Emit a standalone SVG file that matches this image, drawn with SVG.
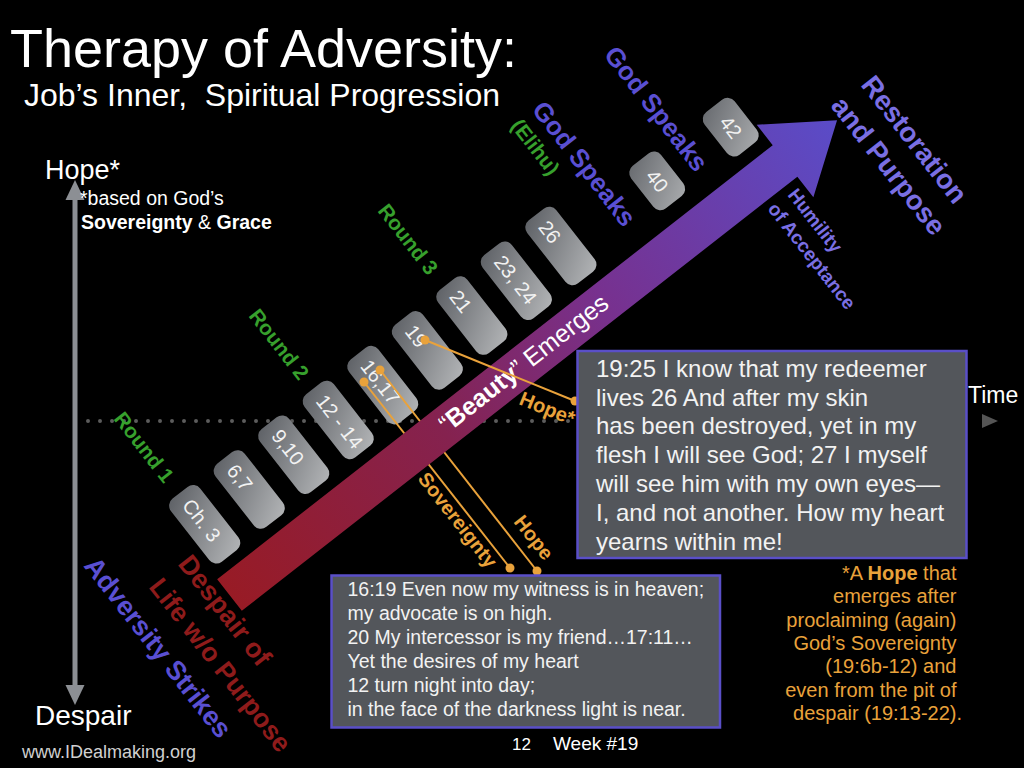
<svg xmlns="http://www.w3.org/2000/svg" width="1024" height="768" viewBox="0 0 1024 768">
<defs>
<linearGradient id="arrowGrad" gradientUnits="userSpaceOnUse" x1="0" y1="0" x2="771" y2="0">
<stop offset="0" stop-color="#981b25"/>
<stop offset="0.35" stop-color="#85224f"/>
<stop offset="0.62" stop-color="#77318f"/>
<stop offset="1" stop-color="#5a4cc8"/>
</linearGradient>
<linearGradient id="boxGrad" gradientUnits="userSpaceOnUse" x1="-22" y1="-36" x2="22" y2="36">
<stop offset="0" stop-color="#5e6166"/>
<stop offset="1" stop-color="#b2b4b6"/>
</linearGradient>
<style>
text { font-family: "Liberation Sans", Arial, sans-serif; }
.box rect { fill: url(#boxGrad); }
.box text { fill: #f2f2f2; font-size: 20px; }
.green { fill: #37a02d; font-weight: bold; font-size: 20.7px; }
.violet { fill: #5a4fd2; font-weight: bold; }
.lav { fill: #7a6fe3; font-weight: bold; }
.red { fill: #8e1b1b; font-weight: bold; }
.orange { fill: #e9a23b; }
.olink { stroke: #e9a23b; stroke-width: 2; fill: none; }
.odot { fill: #e9a23b; }
.callout { fill: #53565b; stroke: #5a4fc8; stroke-width: 2.5; }
.ctext { fill: #f2f2f2; }
.white { fill: #ffffff; }
</style>
</defs>
<rect width="1024" height="768" fill="#000"/>

<g id="title">
<text class="white" x="10" y="67" font-size="53" textLength="507" lengthAdjust="spacingAndGlyphs">Therapy of Adversity:</text>
<text class="white" x="24" y="106" font-size="31.5" xml:space="preserve" textLength="476" lengthAdjust="spacingAndGlyphs">Job’s Inner,  Spiritual Progression</text>
</g>

<g id="time-axis">
<line x1="88" y1="421" x2="976" y2="421" stroke="#5c5c5c" stroke-width="4" stroke-linecap="round" stroke-dasharray="0 12"/>
<polygon points="982,414 998,421 982,428" fill="#555"/>
<text class="white" x="968" y="403" font-size="23">Time</text>
</g>

<g id="hope-axis">
<line x1="75" y1="198" x2="75" y2="687" stroke="#8c8f94" stroke-width="5"/>
<polygon points="75,180 65.5,200 84.5,200" fill="#8c8f94"/>
<polygon points="75,705 65.5,685 84.5,685" fill="#8c8f94"/>
<text class="white" x="45" y="179" font-size="27">Hope*</text>
<text class="white" x="80" y="205" font-size="19.5">*based on God’s</text>
<text class="white" x="81" y="229" font-size="19.5"><tspan font-weight="bold">Sovereignty</tspan> &amp; <tspan font-weight="bold">Grace</tspan></text>
<text class="white" x="35" y="725" font-size="28">Despair</text>
</g>

<g id="chapters" transform="translate(229.5,595) rotate(-38)">
<g id="box-ch3" class="box" transform="translate(24,-71)"><rect x="-18.5" y="-40" width="37" height="80" rx="9"/><text transform="rotate(90)" x="-29" y="7">Ch. 3</text></g>
<g id="box-6-7" class="box" transform="translate(80.5,-71)"><rect x="-18.5" y="-40" width="37" height="80" rx="9"/><text transform="rotate(90)" x="-29" y="7">6,7</text></g>
<g id="box-9-10" class="box" transform="translate(137,-71)"><rect x="-18.5" y="-40" width="37" height="80" rx="9"/><text transform="rotate(90)" x="-29" y="7">9,10</text></g>
<g id="box-12-14" class="box" transform="translate(193.5,-71)"><rect x="-18.5" y="-40" width="37" height="80" rx="9"/><text transform="rotate(90)" x="-29" y="7">12 - 14</text></g>
<g id="box-16-17" class="box" transform="translate(250,-71)"><rect x="-18.5" y="-40" width="37" height="80" rx="9"/><text transform="rotate(90)" x="-29" y="7">16,17</text></g>
<g id="box-19" class="box" transform="translate(306.5,-71)"><rect x="-18.5" y="-40" width="37" height="80" rx="9"/><text transform="rotate(90)" x="-29" y="7">19</text></g>
<g id="box-21" class="box" transform="translate(363,-71)"><rect x="-18.5" y="-40" width="37" height="80" rx="9"/><text transform="rotate(90)" x="-29" y="7">21</text></g>
<g id="box-23-24" class="box" transform="translate(419.5,-71)"><rect x="-18.5" y="-40" width="37" height="80" rx="9"/><text transform="rotate(90)" x="-29" y="7">23, 24</text></g>
<g id="box-26" class="box" transform="translate(476,-71)"><rect x="-18.5" y="-40" width="37" height="80" rx="9"/><text transform="rotate(90)" x="-29" y="7">26</text></g>
<g id="box-40" class="box" transform="translate(592,-63)"><rect x="-19" y="-27" width="38" height="54" rx="9"/><text transform="rotate(90)" x="0" y="7" text-anchor="middle">40</text></g>
<g id="box-42" class="box" transform="translate(683,-60)"><rect x="-19" y="-27" width="38" height="54" rx="9"/><text transform="rotate(90)" x="0" y="7" text-anchor="middle">42</text></g>
</g>

<g id="connectors-under">
<line class="olink" x1="364" y1="382" x2="510" y2="568"/>
<line class="olink" x1="380" y1="370" x2="537" y2="571"/>
<circle class="odot" cx="364" cy="382" r="4.5"/>
<circle class="odot" cx="380" cy="370" r="4.5"/>
<circle class="odot" cx="510" cy="568" r="4.5"/>
<circle class="odot" cx="537" cy="571" r="4.5"/>
</g>

<g id="main-arrow" transform="translate(229.5,595) rotate(-38)">
<path d="M0,-20 L705,-20 L705,-46 L771,0 L705,46 L705,20 L0,20 Z" fill="url(#arrowGrad)"/>
<text class="white" x="374.5" y="7" text-anchor="middle" font-size="25">“<tspan font-weight="bold">Beauty</tspan>” Emerges</text>
</g>

<g id="connectors-over">
<line class="olink" x1="425" y1="340" x2="575" y2="401"/>
<circle class="odot" cx="425" cy="340" r="4.5"/>
<circle class="odot" cx="575" cy="401" r="4.5"/>
</g>

<g id="link-labels">
<text class="orange" font-weight="bold" font-size="20" transform="translate(518,404) rotate(22)">Hope*</text>
<text class="orange" font-weight="bold" font-size="20" transform="translate(417,479) rotate(52)">Sovereignty</text>
<text class="orange" font-weight="bold" font-size="20" transform="translate(513,522) rotate(52)">Hope</text>
</g>

<g id="stage-labels">
<text class="green" transform="translate(113,419) rotate(52)">Round 1</text>
<text class="green" transform="translate(248,316) rotate(52)">Round 2</text>
<text class="green" transform="translate(377,211) rotate(52)">Round 3</text>
<text class="green" font-size="20" transform="translate(510,126) rotate(52)">(Elihu)</text>
<text class="violet" font-size="26" transform="translate(531,110) rotate(52)">God Speaks</text>
<text class="violet" font-size="26" transform="translate(603,55) rotate(52)">God Speaks</text>
<text class="lav" font-size="27.5" transform="translate(860,85) rotate(52)">Restoration</text>
<text class="lav" font-size="27.5" transform="translate(830,106) rotate(52)">and Purpose</text>
<text class="lav" font-size="19" transform="translate(787,195) rotate(52)">Humility</text>
<text class="lav" font-size="19" transform="translate(767,209) rotate(52)">of Acceptance</text>
<text class="violet" font-size="27" transform="translate(83,566) rotate(52)">Adversity Strikes</text>
<text class="red" font-size="27" transform="translate(177,564) rotate(52)">Despair of</text>
<text class="red" font-size="26.5" transform="translate(148,587) rotate(52)">Life w/o Purpose</text>
</g>

<g id="callout-19">
<rect class="callout" x="577.5" y="351" width="389" height="207"/>
<text class="ctext" font-size="24">
<tspan x="596" y="376.7">19:25 I know that my redeemer</tspan>
<tspan x="596" y="405.5">lives 26 And after my skin</tspan>
<tspan x="596" y="434.3">has been destroyed, yet in my</tspan>
<tspan x="596" y="463.1">flesh I will see God; 27 I myself</tspan>
<tspan x="596" y="491.9">will see him with my own eyes—</tspan>
<tspan x="596" y="520.7">I, and not another. How my heart</tspan>
<tspan x="596" y="549.5">yearns within me!</tspan>
</text>
</g>

<g id="callout-16-17">
<rect class="callout" x="331.5" y="575.5" width="388.5" height="152"/>
<text class="ctext" font-size="19.5">
<tspan x="347.5" y="595.7">16:19 Even now my witness is in heaven;</tspan>
<tspan x="347.5" y="619.7">my advocate is on high.</tspan>
<tspan x="347.5" y="643.7">20 My intercessor is my friend…17:11…</tspan>
<tspan x="347.5" y="667.7">Yet the desires of my heart</tspan>
<tspan x="347.5" y="691.7">12 turn night into day;</tspan>
<tspan x="347.5" y="715.7">in the face of the darkness light is near.</tspan>
</text>
</g>

<g id="footnote">
<text class="orange" font-size="20" text-anchor="end">
<tspan x="962" y="580">*A <tspan font-weight="bold">Hope</tspan> that</tspan>
<tspan x="962" y="603.3">emerges after</tspan>
<tspan x="962" y="626.7">proclaiming (again)</tspan>
<tspan x="962" y="650">God’s Sovereignty</tspan>
<tspan x="962" y="673.3">(19:6b-12) and</tspan>
<tspan x="962" y="696.7">even from the pit of</tspan>
<tspan x="962" y="720">despair (19:13-22).</tspan>
</text>
</g>

<g id="footer">
<text x="22" y="758" font-size="18" fill="#d0d0d0">www.IDealmaking.org</text>
<text class="white" x="512" y="750" font-size="17">12</text>
<text class="white" x="553" y="750" font-size="19">Week #19</text>
</g>
</svg>
